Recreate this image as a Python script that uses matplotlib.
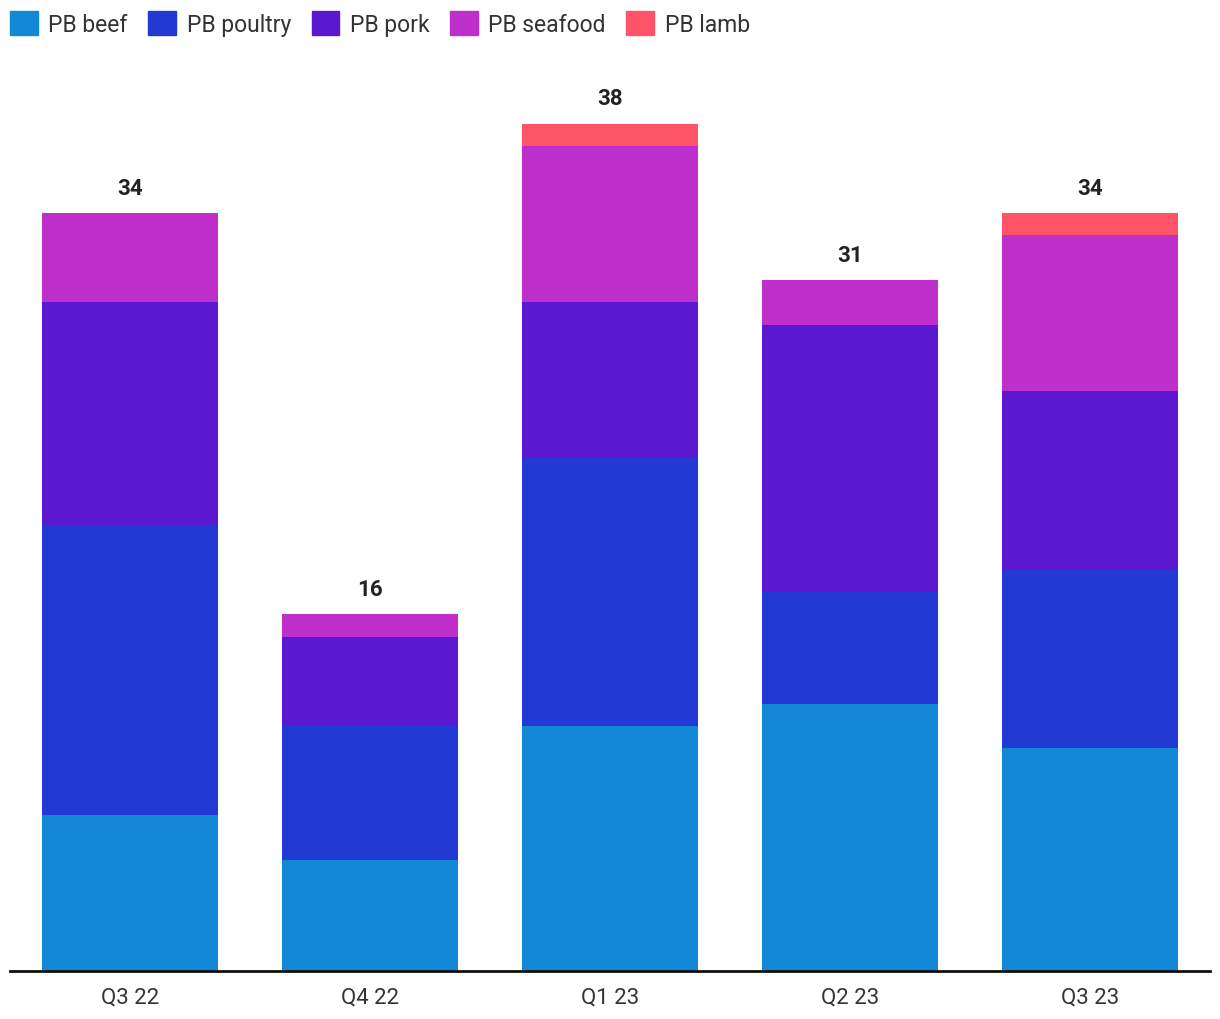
import numpy as np
from matplotlib import pyplot as plt
from matplotlib.patches import Patch

plt.rcParams['font.family'] = ['Roboto', 'DejaVu Sans']

# data
quarters = ['Q3 22', 'Q4 22', 'Q1 23', 'Q2 23', 'Q3 23']
series = ['PB beef', 'PB poultry', 'PB pork', 'PB seafood', 'PB lamb']
beef = [7, 5, 11, 12, 10]
poultry = [13, 6, 12, 5, 8]
pork = [10, 4, 7, 12, 8]
seafood = [4, 1, 7, 2, 7]
lamb = [0, 0, 1, 0, 1]
colors = ['#1288d6', '#2339d4', '#5a19cf', '#bf2fcc', '#ff5468']

fig = plt.figure(figsize=(12.2, 10.2), dpi=100)
ax = fig.add_axes([10/1220, 48/1020, 1200/1220, 891.6/1020])

x = np.arange(len(quarters))
bottom = np.zeros(len(quarters))
for vals, c in zip([beef, poultry, pork, seafood, lamb], colors):
    ax.bar(x, vals, width=0.733, bottom=bottom, color=c, linewidth=0)
    bottom += np.array(vals)

# totals on top
for xi, t in zip(x, bottom):
    ax.text(xi, t + 0.65, f'{int(t)}', ha='center', va='bottom',
            fontsize=16, fontweight='bold', color='#222222')

ax.set_xlim(-0.5, 4.5)
ax.set_ylim(0, 40)
ax.set_xticks(x)
ax.set_xticklabels(quarters, fontsize=16, color='#333333')
ax.tick_params(axis='x', length=0, pad=11)
ax.set_yticks([])
for s in ['top', 'right', 'left']:
    ax.spines[s].set_visible(False)
ax.spines['bottom'].set_linewidth(2)
ax.spines['bottom'].set_color('#111111')

# legend
handles = [Patch(color=c, label=s) for c, s in zip(colors, series)]
fig.legend(handles=handles, ncol=5, loc='upper left',
           bbox_to_anchor=(10/1220, 1 - 12/1020),
           frameon=False, fontsize=16.5, handlelength=1.22, handleheight=1.22,
           handletextpad=0.45, columnspacing=0.9, borderaxespad=0, borderpad=0,
           labelcolor='#333333')

plt.savefig('out.png', dpi=100)
